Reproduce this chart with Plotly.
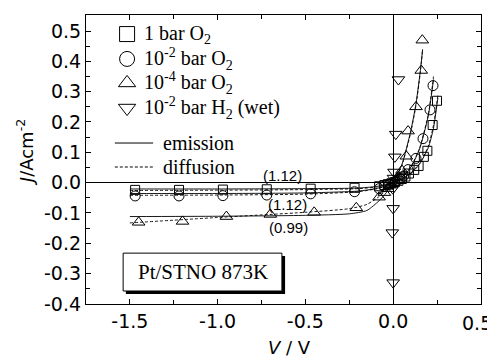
import plotly.graph_objects as go

# ---------------- data ----------------
sq_V = [-1.47, -1.22, -0.97, -0.72, -0.47, -0.22, -0.08, -0.05, -0.03, -0.01, 0.01, 0.03, 0.05, 0.07, 0.09, 0.12, 0.145, 0.175, 0.195, 0.225, 0.25]
sq_J = [-0.024, -0.024, -0.023, -0.022, -0.020, -0.017, -0.012, -0.008, -0.005, -0.002, 0.002, 0.006, 0.012, 0.020, 0.030, 0.042, 0.055, 0.085, 0.105, 0.190, 0.270]

ci_V = [-1.47, -1.22, -0.97, -0.72, -0.47, -0.22, -0.08, -0.05, -0.02, 0.01, 0.04, 0.06, 0.085, 0.13, 0.17, 0.21, 0.227]
ci_J = [-0.044, -0.044, -0.043, -0.041, -0.037, -0.030, -0.020, -0.013, -0.006, 0.003, 0.012, 0.022, 0.043, 0.080, 0.145, 0.240, 0.320]

tu_V = [-1.45, -1.20, -0.95, -0.70, -0.45, -0.21, -0.08, -0.05, -0.03, -0.01, 0.01, 0.03, 0.05, 0.075, 0.085, 0.13, 0.16, 0.166]
tu_J = [-0.131, -0.128, -0.112, -0.105, -0.098, -0.083, -0.048, -0.033, -0.020, -0.008, 0.005, 0.020, 0.040, 0.087, 0.170, 0.250, 0.370, 0.470]

td_V = [0.03, 0.015, 0.01, 0.005, 0.002, 0.0, -0.002, 0.0, -0.005, 0.0]
td_J = [0.34, 0.16, 0.085, 0.035, 0.015, 0.0, -0.02, -0.085, -0.165, -0.33]

# fitted curves (emission = solid, diffusion = dashed)
sq_fit_V = [-1.5, -1.0, -0.5, -0.2, -0.1, -0.05, 0.0, 0.05, 0.1, 0.15, 0.2, 0.23, 0.255]
sq_em_J = [-0.021, -0.021, -0.020, -0.018, -0.013, -0.008, 0.0, 0.012, 0.030, 0.060, 0.115, 0.180, 0.280]
sq_di_J = [-0.026, -0.025, -0.023, -0.020, -0.015, -0.009, 0.0, 0.013, 0.032, 0.063, 0.120, 0.190, 0.290]

ci_fit_V = [-1.5, -1.0, -0.5, -0.2, -0.1, -0.05, 0.0, 0.05, 0.1, 0.15, 0.2, 0.23]
ci_em_J = [-0.036, -0.036, -0.034, -0.028, -0.020, -0.012, 0.0, 0.017, 0.050, 0.110, 0.220, 0.340]
ci_di_J = [-0.042, -0.041, -0.038, -0.030, -0.021, -0.013, 0.0, 0.018, 0.052, 0.113, 0.225, 0.350]

tu_fit_V = [-1.5, -1.0, -0.5, -0.25, -0.15, -0.08, -0.04, 0.0, 0.05, 0.1, 0.13, 0.155, 0.168]
tu_em_J = [-0.112, -0.111, -0.108, -0.103, -0.092, -0.060, -0.034, 0.0, 0.060, 0.170, 0.260, 0.370, 0.440]
tu_di_J = [-0.133, -0.115, -0.098, -0.086, -0.072, -0.046, -0.025, 0.0, 0.058, 0.165, 0.255, 0.365, 0.440]

legend_labels = ["1 bar O<sub>2</sub>", "10<sup>-2</sup> bar O<sub>2</sub>",
                 "10<sup>-4</sup> bar O<sub>2</sub>", "10<sup>-2</sup> bar H<sub>2</sub> (wet)"]
legend_symbols = ["square-open", "circle-open", "triangle-up-open", "triangle-down-open"]
line_labels = ["emission", "diffusion"]
ann_texts = ["(1.12)", "(1.12)", "(0.99)"]
ann_V = [-0.63, -0.60, -0.594]
ann_J = [0.023, -0.073, -0.149]

x_ticks = [-1.5, -1.0, -0.5, 0.0, 0.5]
y_ticks = [-0.4, -0.3, -0.2, -0.1, 0.0, 0.1, 0.2, 0.3, 0.4, 0.5]

# ---------------- figure ----------------
fig = go.Figure()
LW = 0.9
for V, J in [(sq_fit_V, sq_em_J), (ci_fit_V, ci_em_J), (tu_fit_V, tu_em_J)]:
    fig.add_trace(go.Scatter(x=V, y=J, mode="lines", line=dict(color="black", width=LW, shape="spline", smoothing=0.6), showlegend=False))
for V, J in [(sq_fit_V, sq_di_J), (ci_fit_V, ci_di_J), (tu_fit_V, tu_di_J)]:
    fig.add_trace(go.Scatter(x=V, y=J, mode="lines", line=dict(color="black", width=LW, dash="3px,2px", shape="spline", smoothing=0.6), showlegend=False))

for V, J, sym, sz in [(sq_V, sq_J, "square-open", 9), (ci_V, ci_J, "circle-open", 10),
                      (tu_V, tu_J, "triangle-up-open", 11), (td_V, td_J, "triangle-down-open", 11)]:
    fig.add_trace(go.Scatter(x=V, y=J, mode="markers",
                             marker=dict(symbol=sym, size=sz, color="black", line=dict(width=1, color="black")),
                             showlegend=False))

# legend drawn on an overlay axis spanning the plot area [0,1]x[0,1]
leg_x = 0.104
leg_y = [0.934, 0.848, 0.765, 0.678]
for sym, yy in zip(legend_symbols, leg_y):
    fig.add_trace(go.Scatter(x=[leg_x], y=[yy], xaxis="x2", yaxis="y2", mode="markers",
                             marker=dict(symbol=sym, size=15, color="black", line=dict(width=1, color="black")),
                             showlegend=False, hoverinfo="skip"))
ser = "Liberation Serif"
for lab, yy in zip(legend_labels, leg_y):
    fig.add_annotation(xref="x2", yref="y2", x=0.142, y=yy, text=lab, showarrow=False,
                       xanchor="left", yanchor="middle", font=dict(family=ser, size=20, color="black"))
line_y = [0.557, 0.474]
for lab, yy, dash in zip(line_labels, line_y, ["solid", "3px,2px"]):
    fig.add_trace(go.Scatter(x=[0.073, 0.170], y=[yy, yy], xaxis="x2", yaxis="y2", mode="lines",
                             line=dict(color="black", width=1, dash=dash), showlegend=False, hoverinfo="skip"))
    fig.add_annotation(xref="x2", yref="y2", x=0.190, y=yy, text=lab, showarrow=False,
                       xanchor="left", yanchor="middle", font=dict(family=ser, size=20, color="black"))

for t, xv, yv in zip(ann_texts, ann_V, ann_J):
    fig.add_annotation(x=xv, y=yv, text=t, showarrow=False, xanchor="center", yanchor="middle",
                       font=dict(family="Liberation Sans", size=15, color="black"))

# sample label box with shadow
fig.add_shape(type="rect", xref="paper", yref="paper", x0=0.101, x1=0.504, y0=0.035, y1=0.166,
              fillcolor="black", line=dict(width=0))
fig.add_shape(type="rect", xref="paper", yref="paper", x0=0.094, x1=0.496, y0=0.045, y1=0.176,
              fillcolor="white", line=dict(color="black", width=1))
fig.add_annotation(xref="paper", yref="paper", x=0.295, y=0.110, text="Pt/STNO 873K", showarrow=False,
                   xanchor="center", yanchor="middle", font=dict(family=ser, size=21, color="black"))

# axis titles
fig.add_annotation(xref="paper", yref="paper", x=-0.154, y=0.526, text="<i>J</i>/Acm<sup>-2</sup>",
                   textangle=-90, showarrow=False, xanchor="center", yanchor="middle",
                   font=dict(family="DejaVu Sans", size=18, color="black"))
fig.add_annotation(xref="paper", yref="paper", x=0.516, y=-0.149, text="<i>V</i> / V",
                   showarrow=False, xanchor="center", yanchor="middle",
                   font=dict(family="DejaVu Sans", size=18, color="black"))

# last x tick label placed so that it stays inside the page edge
x_ticktext = [f"{v:.1f}" for v in x_ticks]
fig.add_annotation(xref="paper", yref="paper", x=1.0, y=0.0, text=x_ticktext[-1], showarrow=False,
                   xanchor="right", yanchor="middle", xshift=13, yshift=-19,
                   font=dict(family="DejaVu Sans", size=19, color="black"))
x_ticktext[-1] = ""

axis_common = dict(showline=True, linecolor="black", linewidth=1.2, mirror="ticks", ticks="inside",
                   ticklen=5, tickwidth=1, tickcolor="black", showgrid=False,
                   zeroline=True, zerolinecolor="black", zerolinewidth=1.3,
                   tickfont=dict(family="DejaVu Sans", size=19, color="black"))
fig.update_layout(
    width=487, height=352,
    margin=dict(l=78, r=14, t=7, b=56),
    plot_bgcolor="white", paper_bgcolor="white",
    showlegend=False,
    xaxis=dict(range=[-1.75, 0.5005], tickvals=x_ticks, ticktext=x_ticktext,
               minor=dict(dtick=0.25, ticks="inside", ticklen=4, tickcolor="black"), **axis_common),
    yaxis=dict(range=[-0.4005, 0.553], tickvals=y_ticks, ticktext=[f"{v:.1f}" for v in y_ticks],
               minor=dict(dtick=0.05, ticks="inside", ticklen=4, tickcolor="black"), **axis_common),
    xaxis2=dict(range=[0, 1], overlaying="x", visible=False, fixedrange=True),
    yaxis2=dict(range=[0, 1], overlaying="y", visible=False, fixedrange=True),
)

fig.write_html("out.html")
